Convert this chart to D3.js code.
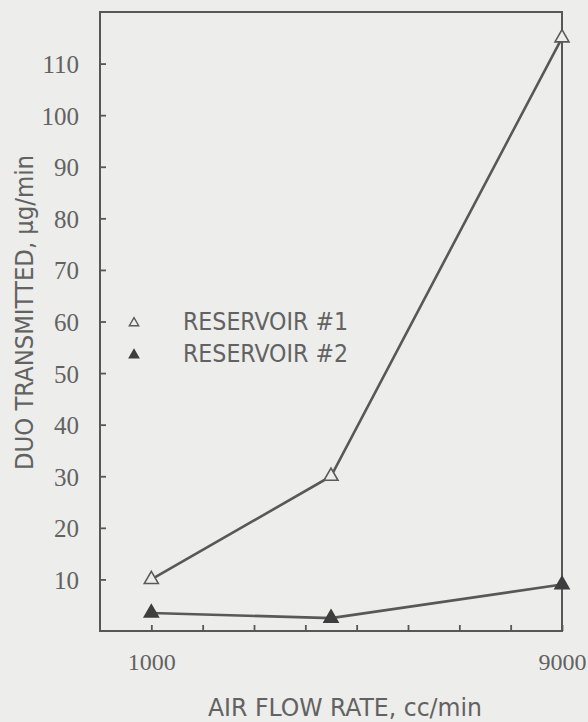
<!DOCTYPE html>
<html>
<head>
<meta charset="utf-8">
<script src="https://cdn.jsdelivr.net/npm/d3@7"></script>
<style>
  html, body { margin: 0; padding: 0; background: #ededeb; }
  svg { display: block; }
</style>
</head>
<body>
<svg id="chart" width="588" height="722"></svg>
<script>
// Air flow rate (cc/min) at which each reservoir was measured
const flowRates = [1000, 4500, 9000];
// DUO transmitted, µg/min
const reservoir1 = [10, 30, 115];
const reservoir2 = [3.5, 2.5, 9];
const seriesNames = ["RESERVOIR #1", "RESERVOIR #2"];
// Axis ticks
const yTicks = [10, 20, 30, 40, 50, 60, 70, 80, 90, 100, 110];
const xTicks = [1000, 2000, 3000, 4000, 5000, 6000, 7000, 8000, 9000];
const xLabelled = [1000, 9000];

const ink = "#575757";
const textInk = "#626262";
const svg = d3.select("#chart");

const x = d3.scaleLinear().domain([0, 9000]).range([100, 562]);
const y = d3.scaleLinear().domain([0, 120]).range([631, 12]);

// plot frame
svg.append("rect")
  .attr("x", x(0)).attr("y", y(120))
  .attr("width", x(9000) - x(0)).attr("height", y(0) - y(120))
  .attr("fill", "none").attr("stroke", ink).attr("stroke-width", 2);

// y axis, ticks pointing inward
const yAxis = svg.append("g")
  .attr("transform", `translate(${x(0)},0)`)
  .call(d3.axisLeft(y).tickValues(yTicks).tickSizeInner(-6).tickSizeOuter(0).tickPadding(21));
yAxis.select(".domain").remove();
yAxis.selectAll(".tick line").attr("stroke", ink).attr("stroke-width", 1.8);
yAxis.selectAll(".tick text")
  .attr("fill", textInk)
  .attr("font-family", "'Liberation Serif', serif")
  .attr("font-size", 25)
  .attr("dy", "0.36em");

// x axis, ticks pointing inward, only the end values labelled
const xAxis = svg.append("g")
  .attr("transform", `translate(0,${y(0)})`)
  .call(d3.axisBottom(x).tickValues(xTicks).tickSizeInner(-6).tickSizeOuter(0).tickPadding(22)
    .tickFormat(d => xLabelled.includes(d) ? String(d) : ""));
xAxis.select(".domain").remove();
xAxis.selectAll(".tick line").attr("stroke", ink).attr("stroke-width", 1.8);
xAxis.selectAll(".tick text")
  .attr("fill", textInk)
  .attr("font-family", "'Liberation Serif', serif")
  .attr("font-size", 24);

// axis titles
svg.append("text")
  .attr("transform", `translate(33,${(470 + 155) / 2}) rotate(-90)`)
  .attr("text-anchor", "middle")
  .attr("font-family", "'DejaVu Sans Condensed', 'DejaVu Sans', sans-serif")
  .attr("font-stretch", "condensed")
  .attr("font-size", 24)
  .attr("fill", textInk)
  .attr("textLength", 315).attr("lengthAdjust", "spacingAndGlyphs")
  .text("DUO TRANSMITTED, µg/min");

svg.append("text")
  .attr("x", 345).attr("y", 716)
  .attr("text-anchor", "middle")
  .attr("font-family", "'DejaVu Sans Condensed', 'DejaVu Sans', sans-serif")
  .attr("font-stretch", "condensed")
  .attr("font-size", 25)
  .attr("fill", textInk)
  .attr("textLength", 274).attr("lengthAdjust", "spacingAndGlyphs")
  .text("AIR FLOW RATE, cc/min");

// data series
const line = d3.line().x(d => x(d[0])).y(d => y(d[1]));
const tri = d3.symbol().type(d3.symbolTriangle);
const series = [
  { values: reservoir1, open: true },
  { values: reservoir2, open: false }
];

series.forEach(s => {
  const pts = flowRates.map((f, i) => [f, s.values[i]]);
  svg.append("path")
    .datum(pts)
    .attr("d", line)
    .attr("fill", "none")
    .attr("stroke", "#585858")
    .attr("stroke-width", 2.6);
  svg.selectAll(null)
    .data(pts)
    .enter().append("path")
    .attr("transform", d => `translate(${x(d[0])},${y(d[1])})`)
    .attr("d", tri.size(85)())
    .attr("fill", s.open ? "#ededeb" : "#3e3e3e")
    .attr("stroke", s.open ? "#5a5a5a" : "#3e3e3e")
    .attr("stroke-width", 1.6);
});

// legend
const legend = svg.append("g");
seriesNames.forEach((name, i) => {
  const cy = 323 + i * 32;
  legend.append("path")
    .attr("transform", `translate(134,${cy})`)
    .attr("d", tri.size(38)())
    .attr("fill", i === 0 ? "#ededeb" : "#3e3e3e")
    .attr("stroke", i === 0 ? "#5a5a5a" : "#3e3e3e")
    .attr("stroke-width", 1.4);
  legend.append("text")
    .attr("x", 183).attr("y", cy + 6)
    .attr("dy", "0.05em")
    .attr("font-family", "'DejaVu Sans Condensed', 'DejaVu Sans', sans-serif")
    .attr("font-stretch", "condensed")
    .attr("font-size", 24)
    .attr("fill", textInk)
    .attr("textLength", 165).attr("lengthAdjust", "spacingAndGlyphs")
    .text(name);
});
</script>
</body>
</html>
